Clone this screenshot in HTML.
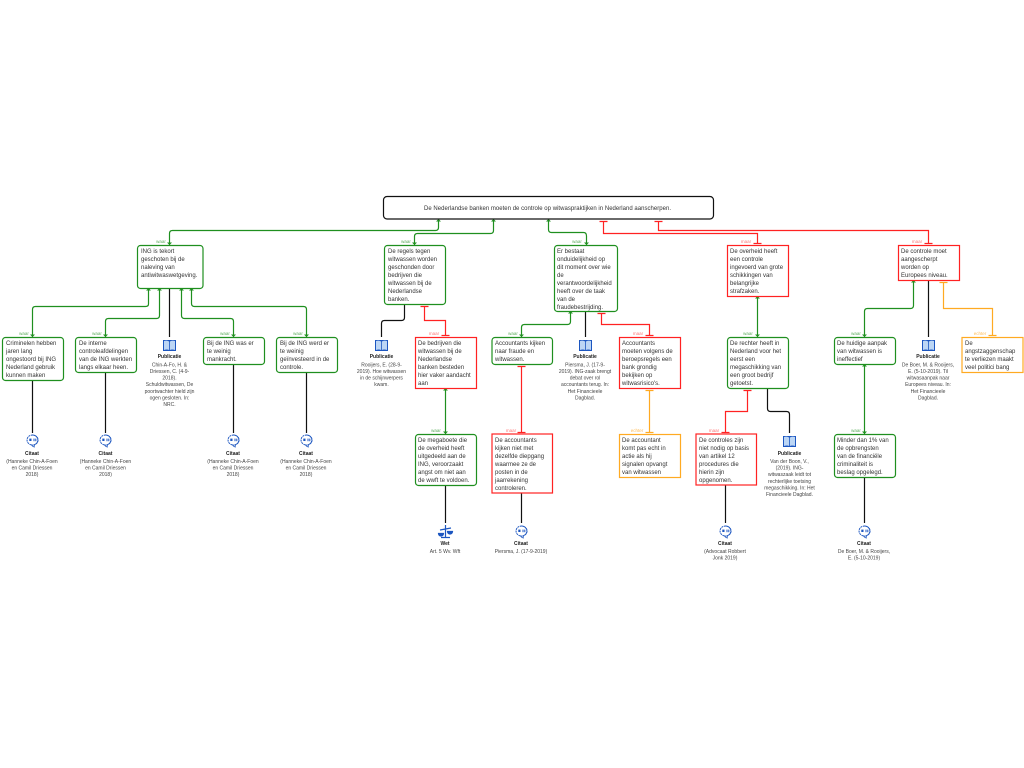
<!DOCTYPE html>
<html lang="nl">
<head>
<meta charset="utf-8">
<title>Diagram</title>
<style>
html,body{margin:0;padding:0;background:#fff;width:1024px;height:768px;overflow:hidden}
svg{display:block;filter:blur(.35px)}
text{font-family:"Liberation Sans",sans-serif;fill:#333}
.t{font-size:6px}
.s{font-size:5px;text-anchor:middle;fill:#444}
.h{font-size:5px;font-weight:bold;text-anchor:middle;fill:#222}
.l{font-size:4.5px;text-anchor:middle}
.lg{fill:#5fae5f}.lr{fill:#f77}.lo{fill:#fb5}
.box{fill:#fff;stroke-width:1.2}
.g{stroke:#1f8f1f;fill:none}.r{stroke:#f22;fill:none}.o{stroke:#fa2;fill:none}.k{stroke:#111;fill:none}
.gb{stroke:#1f8f1f;fill:#fff}.rb{stroke:#f22;fill:#fff}.ob{stroke:#fa2;fill:#fff}
</style>
</head>
<body>
<svg width="1024" height="768" viewBox="0 0 1024 768" xmlns="http://www.w3.org/2000/svg">
<defs>
<symbol id="book" viewBox="0 0 14 12" overflow="visible">
<rect x="0.5" y="0.5" width="13" height="11" fill="#1c56c0"/>
<path d="M1.5 1.5Q4.5 .5 6.6 2V10.5Q4.5 9.5 1.5 10.5Z" fill="#bcd6f5"/>
<path d="M12.5 1.5Q9.5 .5 7.4 2V10.5Q9.5 9.5 12.5 10.5Z" fill="#bcd6f5"/>
</symbol>
<symbol id="cit" viewBox="0 0 14 14" overflow="visible">
<path d="M7 1A5.5 5 0 1 1 5.5 10.8L8.5 13L9 10.6A5.5 5 0 0 0 7 1A5.5 5 0 0 0 5.5 10.8" fill="#fff" stroke="#1c56c0" stroke-width="1" stroke-dasharray="2 .7"/>
<rect x="3.8" y="4.6" width="2.2" height="2.4" fill="#1c56c0"/>
<rect x="8" y="4.6" width="1" height="2.6" fill="#1c56c0"/>
<rect x="9.8" y="4.6" width="1" height="2.6" fill="#1c56c0"/>
</symbol>
</defs>

<!-- connectors green -->
<g class="g" stroke-width="1.2">
<path d="M169.5 245V233.5Q169.5 230.5 172.5 230.5H435.5Q438.5 230.5 438.5 227.5V219"/>
<path d="M414.5 245V236.5Q414.5 233.5 417.5 233.5H490.5Q493.5 233.5 493.5 230.5V219"/>
<path d="M586.5 245V236Q586.5 232.5 583.5 232.5H551.5Q548.5 232.5 548.5 229.5V219"/>
<path d="M148.5 288V304Q148.5 306.5 145.5 306.5H35.5Q32.5 306.5 32.5 309.5V337"/>
<path d="M159.5 288V315.5Q159.5 318.5 156.5 318.5H108.5Q105.5 318.5 105.5 321.5V337"/>
<path d="M181.5 288V315.5Q181.5 318.5 184.5 318.5H230.5Q233.5 318.5 233.5 321.5V337"/>
<path d="M191.5 288V303.5Q191.5 306.5 194.5 306.5H303.5Q306.5 306.5 306.5 309.5V337"/>
<path d="M445.5 388V434"/>
<path d="M570.5 311V321.5Q570.5 324.5 567.5 324.5H524.5Q521.5 324.5 521.5 327.5V337"/>
<path d="M757.5 296V337"/>
<path d="M913.5 280V305.5Q913.5 308.5 910.5 308.5H867.5Q864.5 308.5 864.5 311.5V337"/>
<path d="M864.5 364V434"/>
</g>
<g fill="#1f8f1f">
<path d="M169.5 245l-2.5 -2.5h5zM414.5 245l-2.5 -2.5h5zM586.5 245l-2.5 -2.5h5z"/>
<path d="M438.5 219l-2.5 2.5h5zM493.5 219l-2.5 2.5h5zM548.5 219l-2.5 2.5h5z"/>
<path d="M148.5 288l-2.5 2.5h5zM159.5 288l-2.5 2.5h5zM181.5 288l-2.5 2.5h5zM191.5 288l-2.5 2.5h5z"/>
<path d="M32.5 337l-2.5 -2.5h5zM105.5 337l-2.5 -2.5h5zM233.5 337l-2.5 -2.5h5zM306.5 337l-2.5 -2.5h5z"/>
<path d="M445.5 388l-2.5 2.5h5zM445.5 434l-2.5 -2.5h5z"/>
<path d="M570.5 311l-2.5 2.5h5zM521.5 337l-2.5 -2.5h5z"/>
<path d="M757.5 296l-2.5 2.5h5zM757.5 337l-2.5 -2.5h5z"/>
<path d="M913.5 280l-2.5 2.5h5zM864.5 337l-2.5 -2.5h5zM864.5 364l-2.5 2.5h5zM864.5 434l-2.5 -2.5h5z"/>
</g>

<!-- connectors red -->
<g class="r" stroke-width="1.2">
<path d="M603.5 221V233.5H757.5V243"/>
<path d="M658.5 221V230.5H928.5V243"/>
<path d="M424.5 306V320.5H445.5V335"/>
<path d="M521.5 366V432"/>
<path d="M601.5 313V324.5H649.5V335"/>
<path d="M747.5 390V411.5H725.5V432"/>
<path d="M599.5 221.5H607.5M654.5 221.5H662.5M753.5 243.5H761.5M924.5 243.5H932.5M420.5 306.5H428.5M441.5 335.5H449.5M517.5 366.5H525.5M517.5 432.5H525.5M597.5 313.5H605.5M645.5 335.5H653.5M743.5 390.5H751.5M721.5 432.5H729.5"/>
</g>

<!-- connectors orange -->
<g class="o" stroke-width="1.2">
<path d="M649.5 390V432"/>
<path d="M943.5 282V308.5H992.5V335"/>
<path d="M645.5 390.5H653.5M645.5 432.5H653.5M939.5 282.5H947.5M988.5 335.5H996.5"/>
</g>

<!-- connectors black -->
<g class="k" stroke-width="1.2">
<path d="M32.5 380V433M105.5 372V433M169.5 288V337M233.5 364V433M306.5 372V433"/>
<path d="M404.5 304V317.5Q404.5 320.5 401.5 320.5H384.5Q381.5 320.5 381.5 323.5V337"/>
<path d="M445.5 485V523M521.5 493V523M585.5 311V337"/>
<path d="M767.5 388V408.5Q767.5 411.5 770.5 411.5H786.5Q789.5 411.5 789.5 414.5V433"/>
<path d="M725.5 485V523M864.5 477V523M928.5 280V337"/>
</g>

<!-- boxes -->
<rect class="box" x="383.5" y="196.5" width="330" height="22.5" rx="3.5" stroke="#111" fill="#fff"/>
<g class="box">
<rect class="gb" x="137.5" y="245.5" width="65.5" height="43" rx="3"/>
<rect class="gb" x="2.5" y="337.5" width="61" height="43" rx="3"/>
<rect class="gb" x="75.5" y="337.5" width="61" height="35" rx="3"/>
<rect class="gb" x="203.5" y="337.5" width="61" height="27" rx="3"/>
<rect class="gb" x="276.5" y="337.5" width="61" height="35" rx="3"/>
<rect class="gb" x="384.5" y="245.5" width="61" height="59" rx="3"/>
<rect class="gb" x="415.5" y="434.5" width="61" height="51" rx="3"/>
<rect class="gb" x="492" y="337.5" width="60.5" height="27" rx="3"/>
<rect class="gb" x="554.5" y="245.5" width="63" height="66" rx="3"/>
<rect class="gb" x="727.5" y="337.5" width="61" height="51" rx="3"/>
<rect class="gb" x="834.5" y="337.5" width="61" height="27" rx="3"/>
<rect class="gb" x="834.5" y="434.5" width="61" height="43" rx="3"/>
<rect class="rb" x="415.5" y="337.5" width="61" height="51"/>
<rect class="rb" x="492" y="434" width="60.5" height="59"/>
<rect class="rb" x="619.5" y="337.5" width="61" height="51"/>
<rect class="rb" x="727.5" y="245.5" width="61" height="51"/>
<rect class="rb" x="696" y="434" width="60.5" height="51"/>
<rect class="rb" x="898.5" y="245.5" width="61" height="35"/>
<rect class="ob" x="619.5" y="434.5" width="61" height="43"/>
<rect class="ob" x="962" y="337.5" width="61" height="35"/>
</g>

<!-- main text -->
<text class="t" x="424" y="210" textLength="247">De Nederlandse banken moeten de controle op witwaspraktijken in Nederland aanscherpen.</text>

<!-- node text -->
<text class="t"><tspan x="141" y="253">ING is tekort</tspan><tspan x="141" y="261">geschoten bij de</tspan><tspan x="141" y="269">naleving van</tspan><tspan x="141" y="277">antiwitwaswetgeving.</tspan></text>
<text class="t"><tspan x="6" y="345">Criminelen hebben</tspan><tspan x="6" y="353">jaren lang</tspan><tspan x="6" y="361">ongestoord bij ING</tspan><tspan x="6" y="369">Nederland gebruik</tspan><tspan x="6" y="377">kunnen maken</tspan></text>
<text class="t"><tspan x="79" y="345">De interne</tspan><tspan x="79" y="353">controleafdelingen</tspan><tspan x="79" y="361">van de ING werkten</tspan><tspan x="79" y="369">langs elkaar heen.</tspan></text>
<text class="t"><tspan x="207" y="345">Bij de ING was er</tspan><tspan x="207" y="353">te weinig</tspan><tspan x="207" y="361">mankracht.</tspan></text>
<text class="t"><tspan x="280" y="345">Bij de ING werd er</tspan><tspan x="280" y="353">te weinig</tspan><tspan x="280" y="361">geïnvesteerd in de</tspan><tspan x="280" y="369">controle.</tspan></text>
<text class="t"><tspan x="388" y="253">De regels tegen</tspan><tspan x="388" y="261">witwassen worden</tspan><tspan x="388" y="269">geschonden door</tspan><tspan x="388" y="277">bedrijven die</tspan><tspan x="388" y="285">witwassen bij de</tspan><tspan x="388" y="293">Nederlandse</tspan><tspan x="388" y="301">banken.</tspan></text>
<text class="t"><tspan x="418" y="345">De bedrijven die</tspan><tspan x="418" y="353">witwassen bij de</tspan><tspan x="418" y="361">Nederlandse</tspan><tspan x="418" y="369">banken besteden</tspan><tspan x="418" y="377">hier vaker aandacht</tspan><tspan x="418" y="385">aan</tspan></text>
<text class="t"><tspan x="418" y="442">De megaboete die</tspan><tspan x="418" y="450">de overheid  heeft</tspan><tspan x="418" y="458">uitgedeeld aan de</tspan><tspan x="418" y="466">ING, veroorzaakt</tspan><tspan x="418" y="474">angst om niet aan</tspan><tspan x="418" y="482">de wwft te voldoen.</tspan></text>
<text class="t"><tspan x="495" y="345">Accountants kijken</tspan><tspan x="495" y="353">naar fraude en</tspan><tspan x="495" y="361">witwassen.</tspan></text>
<text class="t"><tspan x="495" y="442">De accountants</tspan><tspan x="495" y="450">kijken niet met</tspan><tspan x="495" y="458">dezelfde diepgang</tspan><tspan x="495" y="466">waarmee ze de</tspan><tspan x="495" y="474">posten in de</tspan><tspan x="495" y="482">jaarrekening</tspan><tspan x="495" y="490">controleren.</tspan></text>
<text class="t"><tspan x="557" y="253">Er bestaat</tspan><tspan x="557" y="261">onduidelijkheid op</tspan><tspan x="557" y="269">dit moment over wie</tspan><tspan x="557" y="277">de</tspan><tspan x="557" y="285">verantwoordelijkheid</tspan><tspan x="557" y="293">heeft over de taak</tspan><tspan x="557" y="301">van de</tspan><tspan x="557" y="309">fraudebestrijding.</tspan></text>
<text class="t"><tspan x="622" y="345">Accountants</tspan><tspan x="622" y="353">moeten volgens de</tspan><tspan x="622" y="361">beroepsregels een</tspan><tspan x="622" y="369">bank grondig</tspan><tspan x="622" y="377">bekijken op</tspan><tspan x="622" y="385">witwasrisico's.</tspan></text>
<text class="t"><tspan x="622" y="442">De accountant</tspan><tspan x="622" y="450">komt pas echt in</tspan><tspan x="622" y="458">actie als hij</tspan><tspan x="622" y="466">signalen opvangt</tspan><tspan x="622" y="474">van witwassen</tspan></text>
<text class="t"><tspan x="730" y="253">De overheid heeft</tspan><tspan x="730" y="261">een controle</tspan><tspan x="730" y="269">ingevoerd van grote</tspan><tspan x="730" y="277">schikkingen van</tspan><tspan x="730" y="285">belangrijke</tspan><tspan x="730" y="293">strafzaken.</tspan></text>
<text class="t"><tspan x="730" y="345">De rechter heeft in</tspan><tspan x="730" y="353">Nederland voor het</tspan><tspan x="730" y="361">eerst een</tspan><tspan x="730" y="369">megaschikking van</tspan><tspan x="730" y="377">een groot bedrijf</tspan><tspan x="730" y="385">getoetst.</tspan></text>
<text class="t"><tspan x="699" y="442">De controles zijn</tspan><tspan x="699" y="450">niet nodig op basis</tspan><tspan x="699" y="458">van artikel 12</tspan><tspan x="699" y="466">procedures die</tspan><tspan x="699" y="474">hierin zijn</tspan><tspan x="699" y="482">opgenomen.</tspan></text>
<text class="t"><tspan x="901" y="253">De controle moet</tspan><tspan x="901" y="261">aangescherpt</tspan><tspan x="901" y="269">worden op</tspan><tspan x="901" y="277">Europees niveau.</tspan></text>
<text class="t"><tspan x="837" y="345">De huidige aanpak</tspan><tspan x="837" y="353">van witwassen is</tspan><tspan x="837" y="361">ineffectief</tspan></text>
<text class="t"><tspan x="837" y="442">Minder dan 1% van</tspan><tspan x="837" y="450">de opbrengsten</tspan><tspan x="837" y="458">van de financiële</tspan><tspan x="837" y="466">criminaliteit is</tspan><tspan x="837" y="474">beslag opgelegd.</tspan></text>
<text class="t"><tspan x="965" y="345">De</tspan><tspan x="965" y="353">angstzaggenschap</tspan><tspan x="965" y="361">te verliezen maakt</tspan><tspan x="965" y="369">veel politici bang</tspan></text>

<!-- icons -->
<use href="#book" x="162.5" y="339.5" width="14" height="12"/>
<use href="#book" x="374.5" y="339.5" width="14" height="12"/>
<use href="#book" x="578.5" y="339.5" width="14" height="12"/>
<use href="#book" x="921.5" y="339.5" width="14" height="12"/>
<use href="#book" x="782.5" y="435.5" width="14" height="12"/>
<use href="#cit" x="25.5" y="434" width="14" height="14"/>
<use href="#cit" x="98.5" y="434" width="14" height="14"/>
<use href="#cit" x="226.5" y="434" width="14" height="14"/>
<use href="#cit" x="299.5" y="434" width="14" height="14"/>
<use href="#cit" x="514.5" y="525" width="14" height="14"/>
<use href="#cit" x="718.5" y="525" width="14" height="14"/>
<use href="#cit" x="857.5" y="525" width="14" height="14"/>
<g fill="none" stroke="#1c56c0" stroke-width="1.2">
<path d="M445.5 525V537M441 537.5H450M440 530L451 528"/>
<path d="M438.5 533.5a2.5 2.5 0 0 0 5 0zM447.5 531.5a2.5 2.5 0 0 0 5 0z" fill="#1c56c0"/>
</g>

<!-- source text -->
<text class="h" x="169.5" y="358">Publicatie</text>
<text class="s"><tspan x="169.5" y="366.5">Chin-A-Fo, H. &amp;</tspan><tspan x="169.5" y="373">Driessen, C. (4-9-</tspan><tspan x="169.5" y="379.6">2018).</tspan><tspan x="169.5" y="386.2">Schuldwitwassen, De</tspan><tspan x="169.5" y="392.8">poortwachter hield zijn</tspan><tspan x="169.5" y="399.4">ogen gesloten. In:</tspan><tspan x="169.5" y="406">NRC.</tspan></text>

<text class="h" x="32" y="455">Citaat</text>
<text class="s"><tspan x="32" y="463">(Hanneke Chin-A-Foen</tspan><tspan x="32" y="469.6">en Camil Driessen</tspan><tspan x="32" y="476.2">2018)</tspan></text>
<text class="h" x="105.5" y="455">Citaat</text>
<text class="s"><tspan x="105.5" y="463">(Hanneke Chin-A-Foen</tspan><tspan x="105.5" y="469.6">en Camil Driessen</tspan><tspan x="105.5" y="476.2">2018)</tspan></text>
<text class="h" x="233" y="455">Citaat</text>
<text class="s"><tspan x="233" y="463">(Hanneke Chin-A-Foen</tspan><tspan x="233" y="469.6">en Camil Driessen</tspan><tspan x="233" y="476.2">2018)</tspan></text>
<text class="h" x="306" y="455">Citaat</text>
<text class="s"><tspan x="306" y="463">(Hanneke Chin-A-Foen</tspan><tspan x="306" y="469.6">en Camil Driessen</tspan><tspan x="306" y="476.2">2018)</tspan></text>

<text class="h" x="381.5" y="358">Publicatie</text>
<text class="s"><tspan x="381.5" y="366.5">Rooijers, E. (28-9-</tspan><tspan x="381.5" y="373">2019). Hoe witwassen</tspan><tspan x="381.5" y="379.6">in de schijnwerpers</tspan><tspan x="381.5" y="386.2">kwam.</tspan></text>

<text class="h" x="445" y="545">Wet</text>
<text class="s" x="445" y="553">Art. 5 Wv. Wft</text>

<text class="h" x="521" y="545">Citaat</text>
<text class="s" x="521" y="553">Piersma, J. (17-9-2019)</text>

<text class="h" x="585" y="358">Publicatie</text>
<text class="s"><tspan x="585" y="366.5">Piersma, J. (17-9-</tspan><tspan x="585" y="373">2019). ING-zaak brengt</tspan><tspan x="585" y="379.6">debat over rol</tspan><tspan x="585" y="386.2">accountants terug. In:</tspan><tspan x="585" y="392.8">Het Financieele</tspan><tspan x="585" y="399.4">Dagblad.</tspan></text>

<text class="h" x="789.5" y="455">Publicatie</text>
<text class="s"><tspan x="789.5" y="463">Van der Boon, V.,</tspan><tspan x="789.5" y="469.6">(2019). ING-</tspan><tspan x="789.5" y="476.2">witwaszaak leidt tot</tspan><tspan x="789.5" y="482.8">rechterlijke toetsing</tspan><tspan x="789.5" y="489.4">megaschikking. In: Het</tspan><tspan x="789.5" y="496">Financieele Dagblad.</tspan></text>

<text class="h" x="725" y="545">Citaat</text>
<text class="s"><tspan x="725" y="553">(Advocaat Robbert</tspan><tspan x="725" y="559.6">Jonk 2019)</tspan></text>

<text class="h" x="864" y="545">Citaat</text>
<text class="s"><tspan x="864" y="553">De Boer, M. &amp; Rooijers,</tspan><tspan x="864" y="559.6">E. (5-10-2019)</tspan></text>

<text class="h" x="928" y="358">Publicatie</text>
<text class="s"><tspan x="928" y="366.5">De Boer, M. &amp; Rooijers,</tspan><tspan x="928" y="373">E. (5-10-2019). Til</tspan><tspan x="928" y="379.6">witwasaanpak naar</tspan><tspan x="928" y="386.2">Europees niveau. In:</tspan><tspan x="928" y="392.8">Het Financieele</tspan><tspan x="928" y="399.4">Dagblad.</tspan></text>

<!-- connector labels -->
<g class="l">
<text class="l lg" x="161" y="243">waar</text>
<text class="l lg" x="406" y="243">waar</text>
<text class="l lg" x="577" y="243">waar</text>
<text class="l lr" x="746" y="243">maar</text>
<text class="l lr" x="917" y="243">maar</text>
<text class="l lg" x="24" y="335">waar</text>
<text class="l lg" x="97" y="335">waar</text>
<text class="l lg" x="225" y="335">waar</text>
<text class="l lg" x="298" y="335">waar</text>
<text class="l lr" x="434" y="335">maar</text>
<text class="l lg" x="513" y="335">waar</text>
<text class="l lr" x="638" y="335">maar</text>
<text class="l lg" x="748" y="335">waar</text>
<text class="l lg" x="856" y="335">waar</text>
<text class="l lo" x="980" y="335">echter</text>
<text class="l lg" x="436" y="432">waar</text>
<text class="l lr" x="511" y="432">maar</text>
<text class="l lo" x="637" y="432">echter</text>
<text class="l lr" x="714" y="432">maar</text>
<text class="l lg" x="856" y="432">waar</text>
</g>
</svg>
</body>
</html>
